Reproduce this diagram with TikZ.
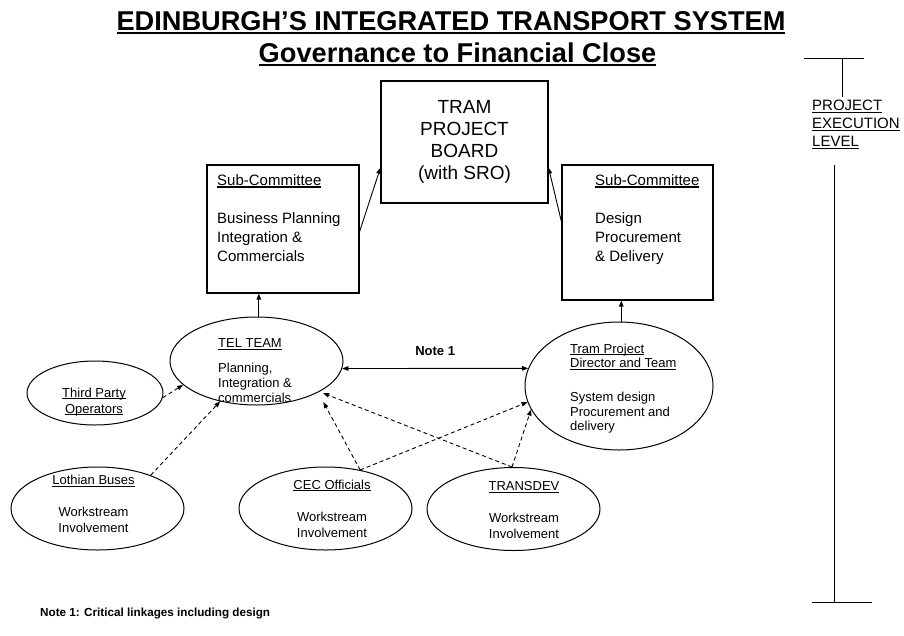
\documentclass[tikz,border=0pt]{standalone}
\usepackage{fontspec}
\setmainfont{Liberation Sans}
\usetikzlibrary{arrows.meta,shapes.geometric}

% underline at a fixed depth below the baseline
\newcommand{\ulin}[1]{\setbox0\hbox{#1}\rlap{\rule[-0.15em]{\wd0}{0.075em}}\box0}

\begin{document}
\begin{tikzpicture}[x=1pt,y=-1pt,>={Triangle[length=6pt,width=4.5pt]},
  govbox/.style={draw,line width=1.1pt,rectangle,inner sep=0pt},
  oval/.style={draw,line width=1pt,ellipse,inner sep=0pt,minimum width=173pt,minimum height=83pt},
  boxtxt/.style={inner sep=0pt,align=left,anchor=north west,font=\fontsize{15}{19}\selectfont},
  ovaltxt/.style={inner sep=0pt,align=center,anchor=north,font=\fontsize{13}{16}\selectfont},
  headline/.style={anchor=base,inner sep=0pt,font=\bfseries\fontsize{27.2}{30}\selectfont},
  link/.style={->,line width=0.9pt},
  dlink/.style={->,line width=0.9pt,dash pattern=on 4pt off 3pt}]

\useasboundingbox (0,0) rectangle (904,635);

% ---------- Titles ----------
\node[headline] (title1) at (451,30)
  {\ulin{EDINBURGH’S INTEGRATED TRANSPORT SYSTEM}};
\node[headline] (title2) at (457.5,62)
  {\ulin{Governance to Financial Close}};

% ---------- Board and sub-committees ----------
\node[govbox,minimum width=167pt,minimum height=122pt,align=center,
  font=\fontsize{19}{22}\selectfont] (board) at (464.5,142) {TRAM\\PROJECT\\BOARD\\(with SRO)};
\node[govbox,minimum width=152pt,minimum height=128pt] (leftbox) at (283,229) {};
\node[govbox,minimum width=151pt,minimum height=135pt] (rightbox) at (637.5,232.5) {};
\node[boxtxt] (lefttxt) at (217,174.3)
  {\ulin{Sub-Committee}\\[19pt]Business Planning\\Integration \&\\Commercials};
\node[boxtxt] (righttxt) at (595,174.3)
  {\ulin{Sub-Committee}\\[19pt]Design\\Procurement\\\& Delivery};

% ---------- Teams and workstreams ----------
\node[oval] (tel) at (256.5,361) [minimum width=173pt,minimum height=88pt] {};
\node[oval] (dir) at (619,386) [minimum width=188pt,minimum height=128pt] {};
\node[oval] (third) at (95,393) [minimum width=136pt,minimum height=64pt] {};
\node[oval] (loth) at (97.5,508.5) {};
\node[oval] (cec) at (325.5,508.5) {};
\node[oval] (trans) at (513.5,509) {};

\node[ovaltxt,align=left,anchor=north west,font=\fontsize{13}{15}\selectfont] (teltxt) at (218,338.7)
  {\ulin{TEL TEAM}\\[10pt]Planning,\\Integration \&\\commercials};
\node[ovaltxt,align=left,anchor=north west,font=\fontsize{13}{14.5}\selectfont] (dirtxt) at (570,343.7)
  {\ulin{Tram Project}\\\ulin{Director and Team}\\[19.5pt]System design\\Procurement and\\delivery};
\node[ovaltxt] (thirdtxt) at (94,387.6) {\ulin{Third Party}\\\ulin{Operators}};
\node[ovaltxt] (lothtxt) at (93.5,475) {\ulin{Lothian Buses}\\[16pt]Workstream\\Involvement};
\node[ovaltxt] (cectxt) at (332,479.5) {\ulin{CEC Officials}\\[16pt]Workstream\\Involvement};
\node[ovaltxt] (transtxt) at (524,481.5) {\ulin{TRANSDEV}\\[16pt]Workstream\\Involvement};

% ---------- Reporting lines ----------
\draw[link] (leftbox.-2) -- (board.197);
\draw[link] (rightbox.172) -- (board.-17);
\draw[link] (tel.87) -- (tel.87 |- leftbox.south);
\draw[link] (dir.88) -- (dir.88 |- rightbox.south);
\draw[<->,line width=0.9pt] (tel.-5) -- (dir.169)
  node[midway,above=12.5pt,inner sep=0pt,font=\bfseries\fontsize{13}{15}\selectfont] (notelbl) {Note 1};

% ---------- Workstream involvement (dashed) ----------
\draw[dlink] (third.-4) -- (tel.198);
\draw[dlink] (loth.32) -- (tel.228);
\draw[dlink,shorten >=11pt] (cec.48) -- (tel.-27);
\draw[dlink] (cec.48) -- (dir.190);
\draw[dlink,shorten >=4pt] (trans.92) -- (tel.-26);
\draw[dlink] (trans.92) -- (dir.195);

% ---------- Execution level bar ----------
\draw[line width=1pt] (804,58) -- (864,58);
\draw[line width=1pt] (842,58) -- (842,97);
\node[boxtxt,font=\fontsize{15}{18}\selectfont] (levtxt) at (812,100.3)
  {\ulin{PROJECT}\\\ulin{EXECUTION}\\\ulin{LEVEL}};
\draw[line width=1pt] (834,165) -- (834,602);
\draw[line width=1pt] (812,602) -- (872,602);

% ---------- Footnote ----------
\node[anchor=base west,inner sep=0pt,font=\bfseries\fontsize{11.7}{14}\selectfont] (footnote) at (40,616)
  {Note 1: Critical linkages including design};

\end{tikzpicture}
\end{document}
